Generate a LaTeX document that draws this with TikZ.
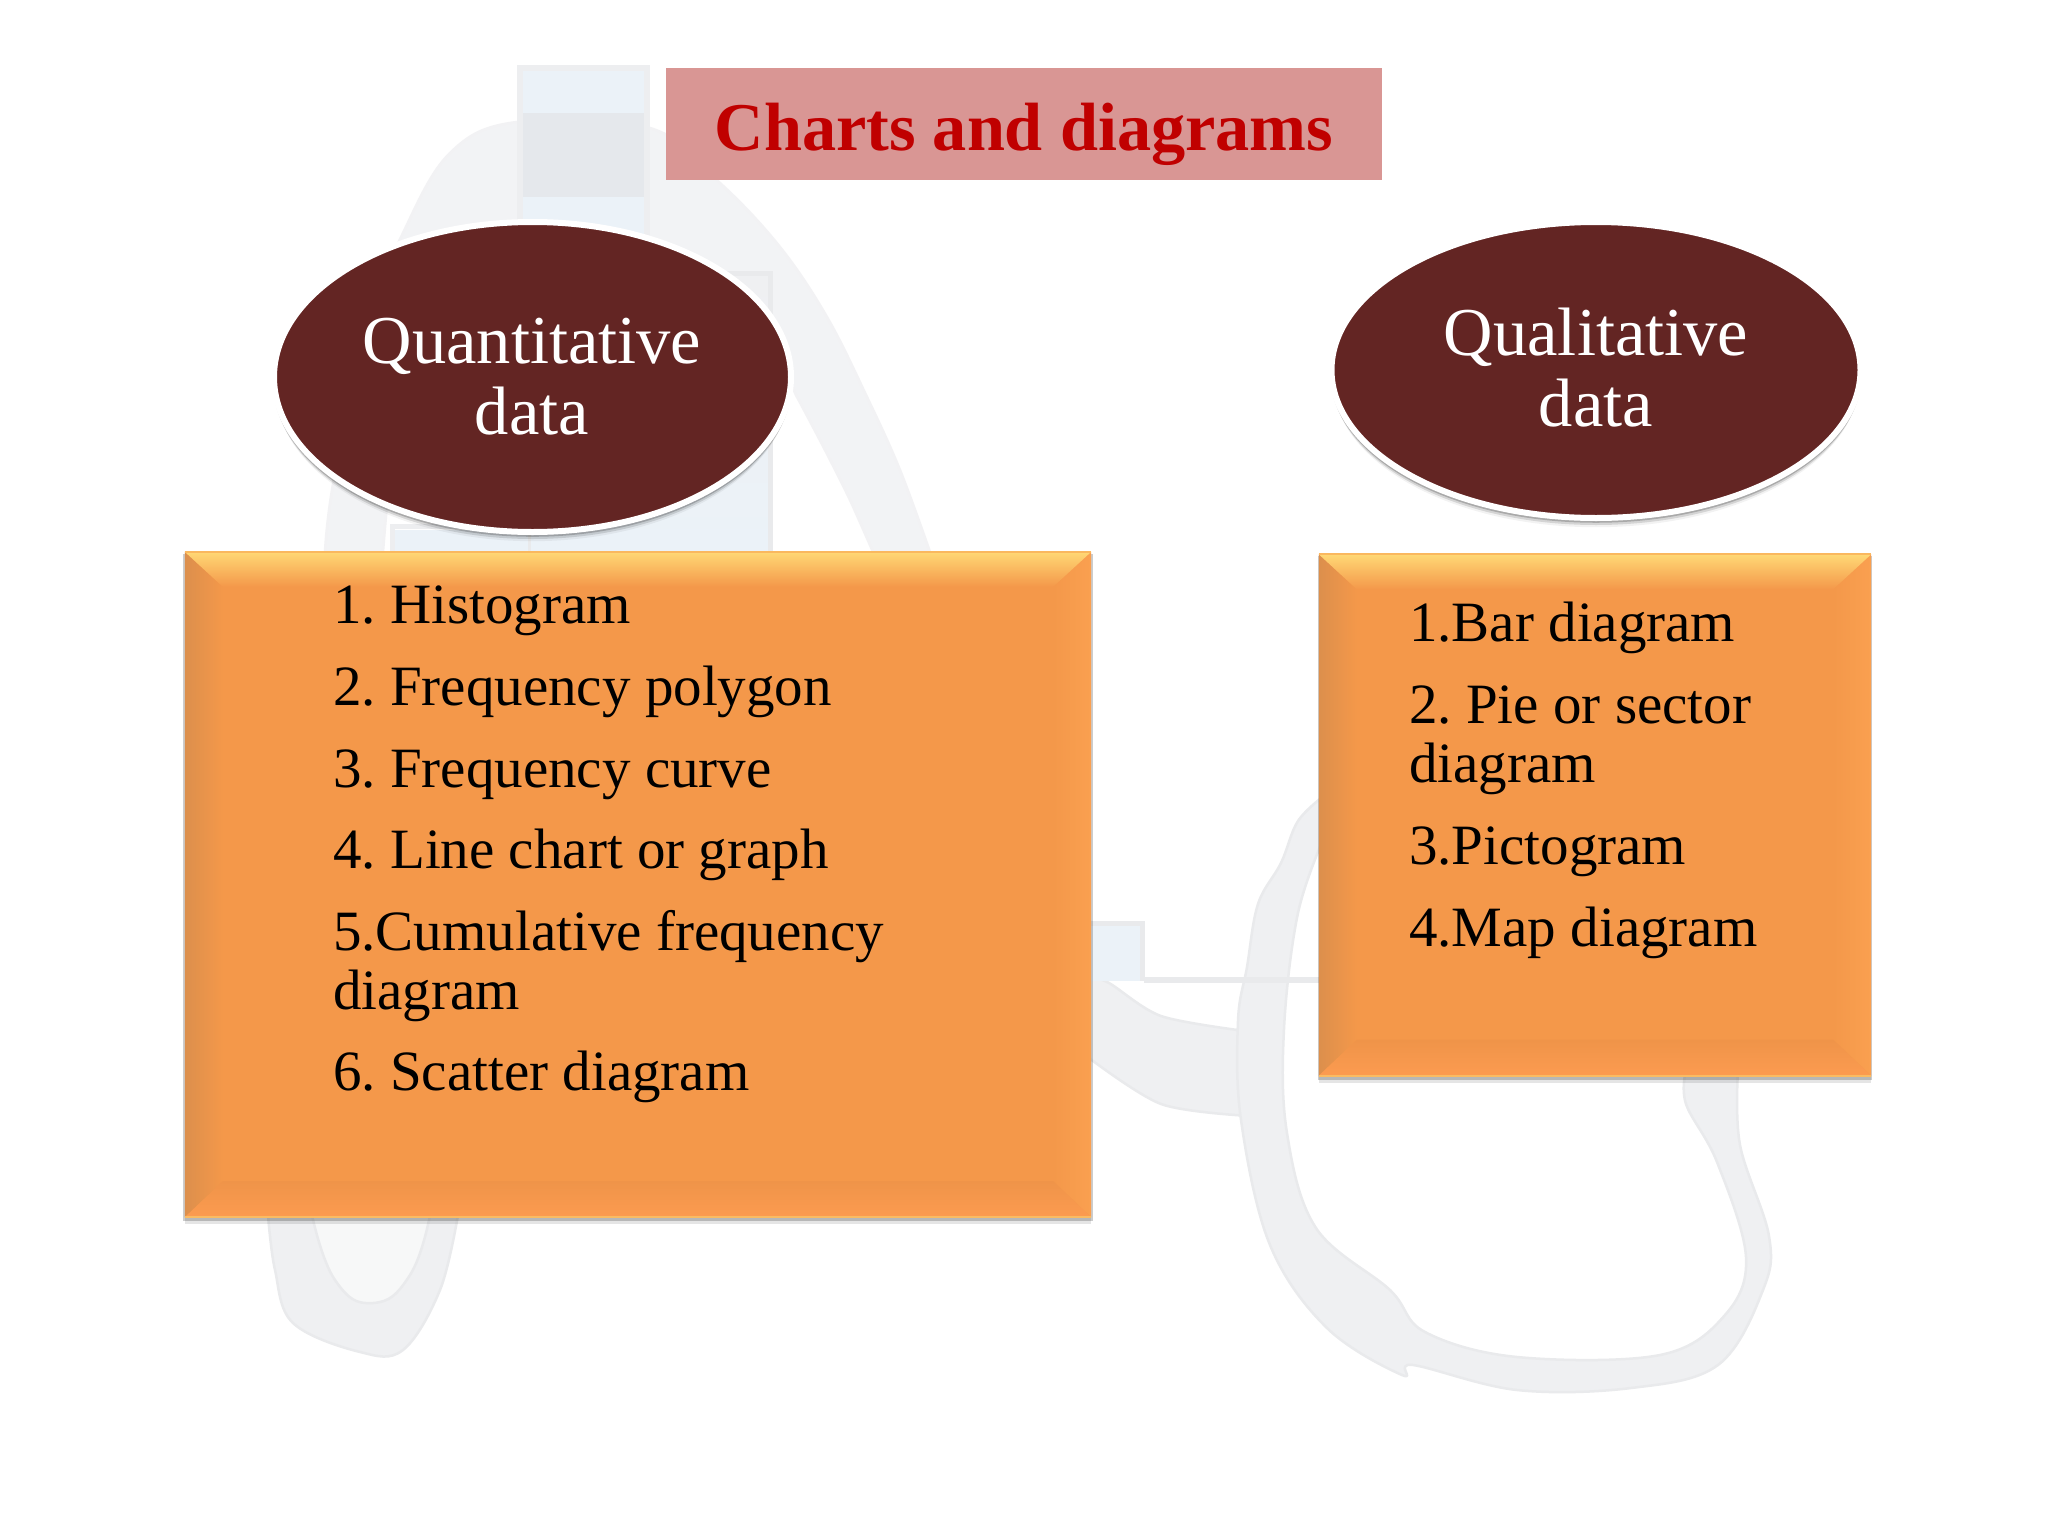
\documentclass[tikz,border=0pt]{standalone}
\usepackage{fontspec}
\setmainfont{Liberation Serif}
\usetikzlibrary{calc,shapes.geometric,shadows}
\definecolor{wmark}{HTML}{EFF0F2}
\definecolor{wedge}{HTML}{E9EAEC}
\definecolor{wblue}{HTML}{EBF2F8}
\definecolor{wgray}{HTML}{E5E8EC}
\definecolor{titlefill}{HTML}{D99694}
\definecolor{titletext}{HTML}{C00000}
\definecolor{maroon}{HTML}{632523}
\definecolor{boxmid}{HTML}{F4984A}
\definecolor{bevtop}{HTML}{FFD875}
\definecolor{bevtopmid}{HTML}{FDB05A}
\definecolor{bevleft}{HTML}{DC8F4C}
\definecolor{bevright}{HTML}{FAA050}
\definecolor{bevbot}{HTML}{FC9B50}
\definecolor{bevbotin}{HTML}{EF9449}
\tikzset{
  x=1pt,y=-1pt,
  wm/.style={fill=wmark,draw=wedge,line width=2.5pt,line join=round},
  wframe/.style={draw=wedge,line width=6pt},
  titlebox/.style={rectangle,fill=titlefill,inner sep=0pt,text=titletext,
    font=\fontsize{68.3}{71}\selectfont\bfseries,text height=52pt,text depth=0pt},
  oval/.style={ellipse,fill=maroon,draw=white,line width=6pt,inner sep=0pt,
    general shadow={shadow xshift=0pt,shadow yshift=-10pt,shadow scale=.995,fill=black,opacity=.05},
    general shadow={shadow xshift=0pt,shadow yshift=-7pt,shadow scale=1,fill=black,opacity=.12},
    general shadow={shadow xshift=0pt,shadow yshift=-4pt,shadow scale=1.005,fill=black,opacity=.2}},
  ovaltext/.style={anchor=base,text=white,inner sep=0pt,font=\fontsize{68.5}{71}\selectfont},
  bevelbox/.style={rectangle,fill=boxmid,inner sep=0pt,
    general shadow={shadow xshift=0pt,shadow yshift=-7pt,fill=black,opacity=.1},
    general shadow={shadow xshift=0pt,shadow yshift=-3pt,shadow scale=1.004,fill=black,opacity=.2}},
  item/.style={anchor=base west,inner sep=0pt,text=black,font=\fontsize{57}{60}\selectfont\frenchspacing},
}
\newcommand{\bevelon}[1]{%
  \coordinate (nw) at (#1.north west);
  \coordinate (ne) at (#1.north east);
  \coordinate (sw) at (#1.south west);
  \coordinate (se) at (#1.south east);
  \coordinate (inw) at ($(nw)+(38,35)$);
  \coordinate (ine) at ($(ne)+(-38,35)$);
  \coordinate (isw) at ($(sw)+(38,-36)$);
  \coordinate (ise) at ($(se)+(-38,-36)$);
  \shade[left color=bevleft,right color=boxmid] (nw)--(inw)--(isw)--(sw)--cycle;
  \shade[left color=boxmid,right color=bevright] (ne)--(ine)--(ise)--(se)--cycle;
  \shade[top color=bevtop,middle color=bevtopmid,bottom color=boxmid] (nw)--(ne)--(ine)--(inw)--cycle;
  \shade[top color=bevbotin,bottom color=bevbot] (sw)--(isw)--(ise)--(se)--cycle;
  \draw[line width=2pt,color=bevtop!55!boxmid] (sw)--(se);
  \draw[line width=2pt,color=bevtop!50!boxmid] (nw)--(ne);
}
\begin{document}
\begin{tikzpicture}
\useasboundingbox (0,0) rectangle (2048,1536);
\fill[white!99!wmark] (0,0) rectangle (2048,1536);
% watermark: arch
\path[wm,fill=wmark!80!white,draw=wedge!60!white] plot[smooth,tension=.6] coordinates {(325,552) (332,490) (360,340) (403,233) (450,153) (517,122) (650,128) (720,183) (780,247) (827,317) (867,397) (900,470) (930,552)}
  -- plot[smooth,tension=.4] coordinates {(873,552) (850,500) (825,450) (797,397) (765,340) (650,300) (450,300) (400,400) (383,552)} -- cycle;
% watermark: upper tube
\fill[wgray] (520,113) rectangle (647,197);
\fill[wblue] (520,197) rectangle (647,240);
\fill[wblue] (520,68) rectangle (647,113);
\draw[wframe,draw=wedge!80!white] (520,240) -- (520,68) -- (647,68) -- (647,240);
% watermark: inner rectangles
\shade[top color=wmark,bottom color=wblue] (528,273) rectangle (772,552);
\draw[wframe,line width=5pt] (528,552) -- (528,273) -- (770,273) -- (770,552);
\fill[wblue] (392,530) rectangle (528,552);
\draw[wframe,line width=5pt,draw=wedge!80!white] (392,552) -- (392,526) -- (528,526);
% watermark: lower U
\path[wm] plot[smooth,tension=.6] coordinates {(268,1215) (275,1270) (293,1323) (360,1352) (403,1350) (440,1290) (458,1215)} -- cycle;
\path[wm,fill=wmark!50!white] plot[smooth,tension=.8] coordinates {(312,1215) (335,1280) (373,1303) (410,1275) (430,1215)} -- cycle;
% watermark: right tube and branch
\path[wm] plot[smooth,tension=.5] coordinates {(1085,975) (1109,983) (1161,1016) (1245,1031)} -- plot[smooth,tension=.5] coordinates {(1250,1116) (1161,1104) (1085,1055)} -- cycle;
\path[wm] plot[smooth,tension=.6] coordinates {(1325,795) (1298,821) (1281,863) (1258,904) (1247,967) (1238,1021) (1241,1120) (1270,1245) (1327,1328) (1402,1375) (1413,1365) (1517,1390) (1631,1388) (1718,1365) (1763,1290) (1769,1236) (1740,1145) (1738,1070)}
  -- plot[smooth,tension=.6] coordinates {(1686,1070) (1686,1104) (1717,1162) (1746,1257) (1725,1315) (1660,1355) (1517,1357) (1425,1332) (1390,1290) (1316,1228) (1287,1133) (1284,1029) (1298,913) (1325,835)} -- cycle;
\fill[wedge] (1144,977) rectangle (1325,983);
\fill[wblue] (1085,923) rectangle (1142,981);
\draw[wframe,line width=5pt] (1085,923) -- (1142,923) -- (1142,981);
% title
\node[titlebox,minimum width=716pt,minimum height=112pt] (title) at (1024,124) {Charts and diagrams};
% ovals
\node[oval,minimum width=517pt,minimum height=310pt] (quant) at (532.5,377) {};
\node[ovaltext] (quant1) at (532,363) {Quantitative};
\node[ovaltext] (quant2) at (532,434) {data};
\node[oval,minimum width=529pt,minimum height=296pt] (qual) at (1596,370) {};
\node[ovaltext] (qual1) at (1596,355) {Qualitative};
\node[ovaltext] (qual2) at (1596,426) {data};
% boxes
\node[bevelbox,minimum width=906pt,minimum height=665pt] (qbox) at (638,884.5) {};
\bevelon{qbox}
\node[bevelbox,minimum width=552pt,minimum height=521pt] (lbox) at (1595,815) {};
\bevelon{lbox}
% lists
\node[item] (q1) at (333,623) {1. Histogram};
\node[item] (q2) at (333,705) {2. Frequency polygon};
\node[item] (q3) at (333,787) {3. Frequency curve};
\node[item] (q4) at (333,868) {4. Line chart or graph};
\node[item] (q5a) at (333,950) {5.Cumulative frequency};
\node[item] (q5b) at (333,1009) {diagram};
\node[item] (q6) at (333,1090) {6. Scatter diagram};
\node[item] (l1) at (1409,641) {1.Bar diagram};
\node[item] (l2a) at (1409,723) {2. Pie or sector};
\node[item] (l2b) at (1409,782) {diagram};
\node[item] (l3) at (1409,864) {3.Pictogram};
\node[item] (l4) at (1409,946) {4.Map diagram};
\end{tikzpicture}
\end{document}
